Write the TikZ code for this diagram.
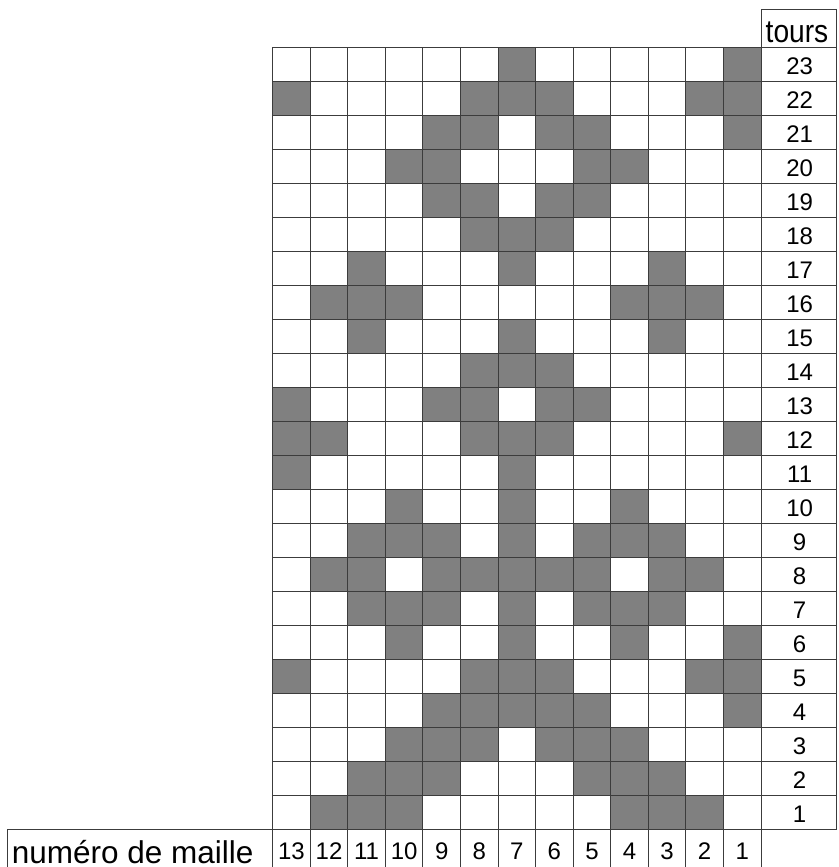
\documentclass[tikz,border=0pt]{standalone}
\usepackage{fontspec}
\setmainfont{Liberation Sans}
\usepackage{graphicx}
\usepackage{xcolor}
\usepackage{tikz}
\definecolor{primary}{RGB}{60, 60, 60}
\definecolor{stitch}{RGB}{128, 128, 128}

\begin{document}
\begin{tikzpicture}[x=37.56pt,y=34pt,
  rule/.style={primary,line width=0.9pt},
  numlabel/.style={anchor=base,inner sep=0pt,font=\fontsize{24}{24}\selectfont}]
\useasboundingbox (-7.26,-1.109) rectangle (15.051,24.391);
\foreach \r/\cols in {23/{7,1},22/{13,8,7,6,2,1},21/{9,8,6,5,1},20/{10,9,5,4},
  19/{9,8,6,5},18/{8,7,6},17/{11,7,3},16/{12,11,10,4,3,2},15/{11,7,3},14/{8,7,6},
  13/{13,9,8,6,5},12/{13,12,8,7,6,1},11/{13,7},10/{10,7,4},9/{11,10,9,7,5,4,3},
  8/{12,11,9,8,7,6,5,3,2},7/{11,10,9,7,5,4,3},6/{10,7,4,1},5/{13,8,7,6,2,1},
  4/{9,8,7,6,5,1},3/{10,9,8,6,5,4},2/{11,10,9,5,4,3},1/{12,11,10,4,3,2}}
  \foreach \c in \cols
    \fill[stitch] (13-\c,\r-1) rectangle (14-\c,\r);
\foreach \k in {0,...,13}
  \draw[rule] (\k,-1.109) -- (\k,23);
\foreach \r in {0,...,23}
  \draw[rule] (0,\r) -- (15.02,\r);
\draw[rule] (15.02,0) -- (15.02,24.1) -- (13,24.1) -- (13,23);
\draw[rule] (0,0) -- (-7.05,0) -- (-7.05,-1.109);
\node[anchor=base,inner sep=0pt,font=\fontsize{32}{32}\selectfont] (tours) at (13.96,23.135) {\scalebox{0.88}[1]{tours}};
\foreach \r in {1,...,23}
  \node[numlabel] (row\r) at (14.03,\r-0.8) {\r};
\foreach \c in {1,...,13}
  \node[numlabel] (col\c) at (13.5-\c,-0.9) {\c};
\node[anchor=base west,inner sep=0pt,font=\fontsize{31.5}{31.5}\selectfont] (maille) at (-6.95,-1.02) {numéro de maille};
\end{tikzpicture}
\end{document}
